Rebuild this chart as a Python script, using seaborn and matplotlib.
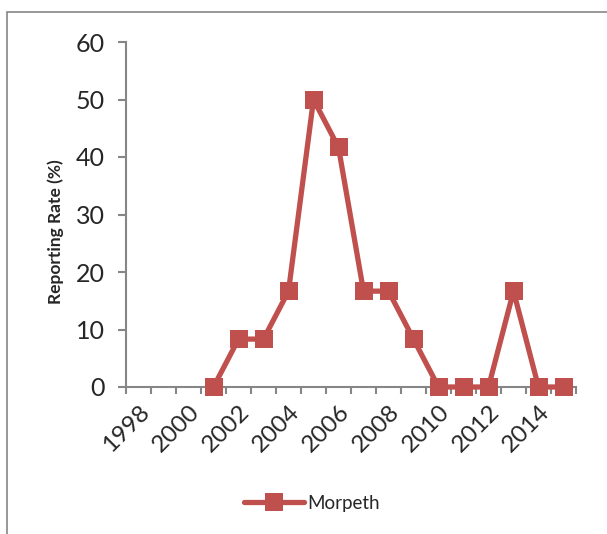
import matplotlib
matplotlib.use("Agg")
import matplotlib.pyplot as plt
import matplotlib.transforms as mtransforms
import seaborn as sns
import pandas as pd
import numpy as np
from matplotlib.patches import Rectangle

# Reporting rate for Morpeth by year
years = [2001, 2002, 2003, 2004, 2005, 2006, 2007, 2008,
         2009, 2010, 2011, 2012, 2013, 2014, 2015]
rates = [0, 8.33, 8.33, 16.67, 50, 41.67, 16.67, 16.67,
         8.33, 0, 0, 0, 16.67, 0, 0]
series_name = "Morpeth"
year_labels = [1998, 2000, 2002, 2004, 2006, 2008, 2010, 2012, 2014]
first_year, last_year = 1998, 2015

df = pd.DataFrame({"Year": years, "Rate": rates, "Site": series_name})

sns.set_style("white")
plt.rcParams["font.family"] = ["Lato", "DejaVu Sans"]

W, H = 607, 534
fig = plt.figure(figsize=(W / 100, H / 100), dpi=100)
ax = fig.add_axes([126 / W, 1 - 387 / H, (576 - 126) / W, (387 - 42) / H])

red = "#C0504D"
grey = "#868686"

sns.lineplot(data=df, x="Year", y="Rate", hue="Site", palette=[red],
             marker="s", markersize=12.5, markeredgewidth=0,
             linewidth=3.8, ax=ax, legend=False, clip_on=False, zorder=5)

ax.set_xlim(first_year - 0.5, last_year + 0.5)
ax.set_ylim(0, 60)
ax.set_yticks(np.arange(0, 61, 10))

# category boundaries carry the tick marks; labels sit at every other year
ax.set_xticks(year_labels)
ax.set_xticklabels([str(y) for y in year_labels], rotation=45,
                   ha="right", va="top", rotation_mode="anchor", fontsize=17.5)
shift = mtransforms.ScaledTranslation(5 / 100, 0, fig.dpi_scale_trans)
for lbl in ax.get_xticklabels():
    lbl.set_transform(lbl.get_transform() + shift)
ax.set_xticks(np.arange(first_year - 0.5, last_year + 1.0, 1.0), minor=True)
ax.tick_params(axis="x", which="major", bottom=True, length=0, pad=10)
ax.tick_params(axis="x", which="minor", bottom=True, length=5, width=1.5,
               color=grey, direction="out")
ax.tick_params(axis="y", left=True, length=6, width=1.5, color=grey,
               direction="out", labelsize=18, pad=9)

for side in ("top", "right"):
    ax.spines[side].set_visible(False)
for side in ("left", "bottom"):
    ax.spines[side].set_color(grey)
    ax.spines[side].set_linewidth(1.5)

ax.set_xlabel("")
ax.set_ylabel("Reporting Rate (%)", fontsize=12.5, fontweight="bold")
ax.yaxis.set_label_coords((64 - 126) / 450, (387 - 232) / 345)

# legend entry below the plot
handle = plt.Line2D([], [], color=red, marker="s", markersize=12.5,
                    markeredgewidth=0, linewidth=3.8)
fig.legend([handle], [series_name], loc="center",
           bbox_to_anchor=(312 / W, 1 - 503 / H), frameon=False,
           fontsize=13.5, handlelength=3.2, handletextpad=0.2)

# chart area frame
fig.patches.append(Rectangle((7 / W, -0.1), 1.2, 1 - 12 / H + 0.1,
                             transform=fig.transFigure, fill=False,
                             edgecolor=grey, linewidth=1.2))

fig.savefig("out.png", dpi=100)
